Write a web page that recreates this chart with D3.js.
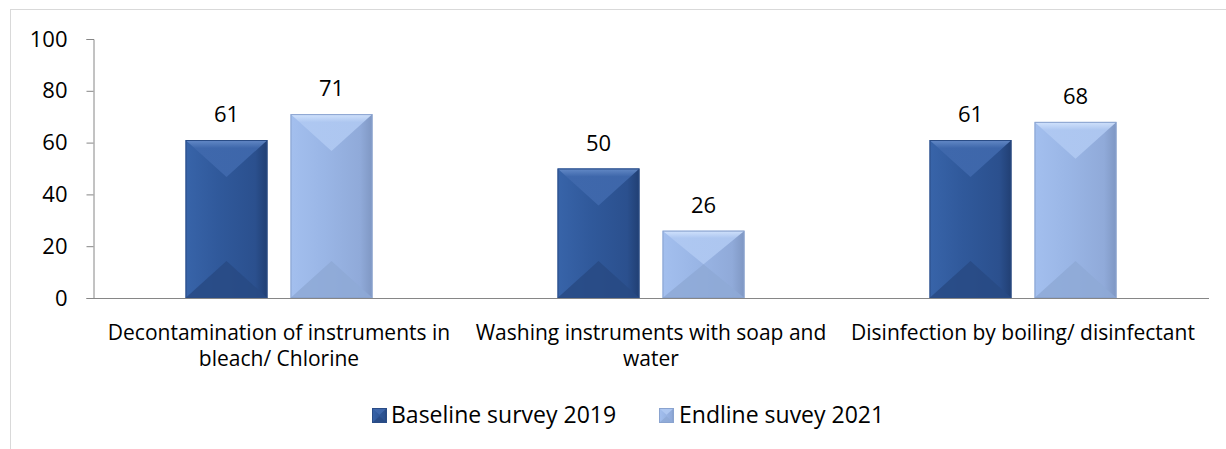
<!DOCTYPE html>
<html>
<head>
<meta charset="utf-8">
<script src="https://cdn.jsdelivr.net/npm/d3@7"></script>
<style>
  html, body { margin: 0; padding: 0; background: #fff; }
  svg { display: block; font-family: "Open Sans", Carlito, Calibri, sans-serif; }
</style>
</head>
<body>
<svg id="chart" width="1226" height="449"></svg>
<script>
// Categories (each label split into its display lines)
const categories = [
  ["Decontamination of instruments in", "bleach/ Chlorine"],
  ["Washing instruments with soap and", "water"],
  ["Disinfection by boiling/ disinfectant"]
];
const seriesNames = ["Baseline survey 2019", "Endline suvey 2021"];
const baseline = [61, 50, 61];
const endline = [71, 26, 68];
const yTicks = [0, 20, 40, 60, 80, 100];

const svg = d3.select("#chart");
const margin = { left: 93, right: 1209, top: 39, bottom: 298 };

// Outer frame (runs off the right and bottom of the view)
svg.append("rect")
  .attr("x", 10.5).attr("y", 9.5)
  .attr("width", 1240).attr("height", 460)
  .attr("fill", "none").attr("stroke", "#d9d9d9").attr("stroke-width", 1);

const x0 = d3.scaleBand().domain(d3.range(categories.length))
  .range([margin.left, margin.right]).paddingInner(0).paddingOuter(0);
const y = d3.scaleLinear().domain([0, 100]).range([margin.bottom, margin.top]);

// Bar positions within each category
const barW = 82, gap = 23;
const series = [baseline, endline];

const defs = svg.append("defs");
const palettes = [
  { body: ["#3864a9", "#30599b", "#2b508e", "#213f73"], top: "#4069ad", topEdge: "#6a90cc", bottom: "#284a84", stroke: "#2a4c86" },
  { body: ["#a3bfee", "#9ab6e6", "#90aad9", "#7f97c3"], top: "#b0c9f2", topEdge: "#d8e8ff", bottom: "#8ea9d6", stroke: "#8aa3cf" }
];
palettes.forEach((p, i) => {
  const g = defs.append("linearGradient").attr("id", "body" + i)
    .attr("x1", 0).attr("x2", 1).attr("y1", 0).attr("y2", 0);
  g.append("stop").attr("offset", "0%").attr("stop-color", p.body[0]);
  g.append("stop").attr("offset", "40%").attr("stop-color", p.body[1]);
  g.append("stop").attr("offset", "85%").attr("stop-color", p.body[2]);
  g.append("stop").attr("offset", "100%").attr("stop-color", p.body[3]);
  const t = defs.append("linearGradient").attr("id", "top" + i)
    .attr("x1", 0).attr("x2", 0).attr("y1", 0).attr("y2", 1);
  t.append("stop").attr("offset", "0%").attr("stop-color", p.topEdge);
  t.append("stop").attr("offset", "22%").attr("stop-color", p.top);
  t.append("stop").attr("offset", "100%").attr("stop-color", p.top);
});

// Draw one bevelled bar
function bevelBar(g, xl, yt, w, h, i) {
  const p = palettes[i];
  const d = Math.min(w * 0.45, h / 2);
  g.append("rect").attr("x", xl).attr("y", yt).attr("width", w).attr("height", h)
    .attr("fill", `url(#body${i})`);
  g.append("polygon")
    .attr("points", [[xl, yt], [xl + w, yt], [xl + w / 2, yt + d]].map(q => q.join(",")).join(" "))
    .attr("fill", `url(#top${i})`).attr("opacity", 0.9);
  g.append("polygon")
    .attr("points", [[xl, yt + h], [xl + w, yt + h], [xl + w / 2, yt + h - d]].map(q => q.join(",")).join(" "))
    .attr("fill", p.bottom).attr("opacity", 0.85);
  g.append("rect").attr("x", xl + 0.5).attr("y", yt + 0.5).attr("width", w - 1).attr("height", h - 1)
    .attr("fill", "none").attr("stroke", p.stroke).attr("stroke-width", 1);
}

const bars = svg.append("g");
categories.forEach((c, ci) => {
  const center = x0(ci) + x0.bandwidth() / 2;
  series.forEach((s, si) => {
    const xl = si === 0 ? center - gap / 2 - barW : center + gap / 2;
    const v = s[ci];
    bevelBar(bars, xl, y(v), barW, y(0) - y(v), si);
    bars.append("text")
      .attr("x", xl + barW / 2).attr("y", y(v) - 18)
      .attr("text-anchor", "middle").attr("font-size", 22).attr("fill", "#000")
      .text(v);
  });
});

// Y axis
const yAxis = d3.axisLeft(y).tickValues(yTicks).tickSize(7).tickPadding(19);
const ya = svg.append("g").attr("transform", `translate(${margin.left + 0.5},0)`).call(yAxis);
ya.select(".domain").attr("stroke", "#868686");
ya.selectAll(".tick line").attr("stroke", "#868686");
ya.selectAll(".tick text").attr("font-size", 22).attr("fill", "#000")
  .attr("font-family", "'Open Sans', Carlito, Calibri, sans-serif");

// Baseline
svg.append("line")
  .attr("x1", margin.left).attr("x2", margin.right)
  .attr("y1", y(0) + 0.5).attr("y2", y(0) + 0.5)
  .attr("stroke", "#868686").attr("stroke-width", 1);

// Category labels
categories.forEach((lines, ci) => {
  const center = x0(ci) + x0.bandwidth() / 2;
  const t = svg.append("text").attr("text-anchor", "middle")
    .attr("font-size", 21).attr("fill", "#000");
  lines.forEach((ln, li) => {
    t.append("tspan").attr("x", center).attr("y", 340 + li * 26).text(ln);
  });
});

// Legend
const legendItems = [{ x: 372, tx: 391, i: 0 }, { x: 659, tx: 679, i: 1 }];
legendItems.forEach(item => {
  const g = svg.append("g");
  bevelBar(g, item.x, 408, 15, 15, item.i);
  g.append("text").attr("x", item.tx).attr("y", 423)
    .attr("font-size", 23).attr("fill", "#000").text(seriesNames[item.i]);
});
</script>
</body>
</html>
